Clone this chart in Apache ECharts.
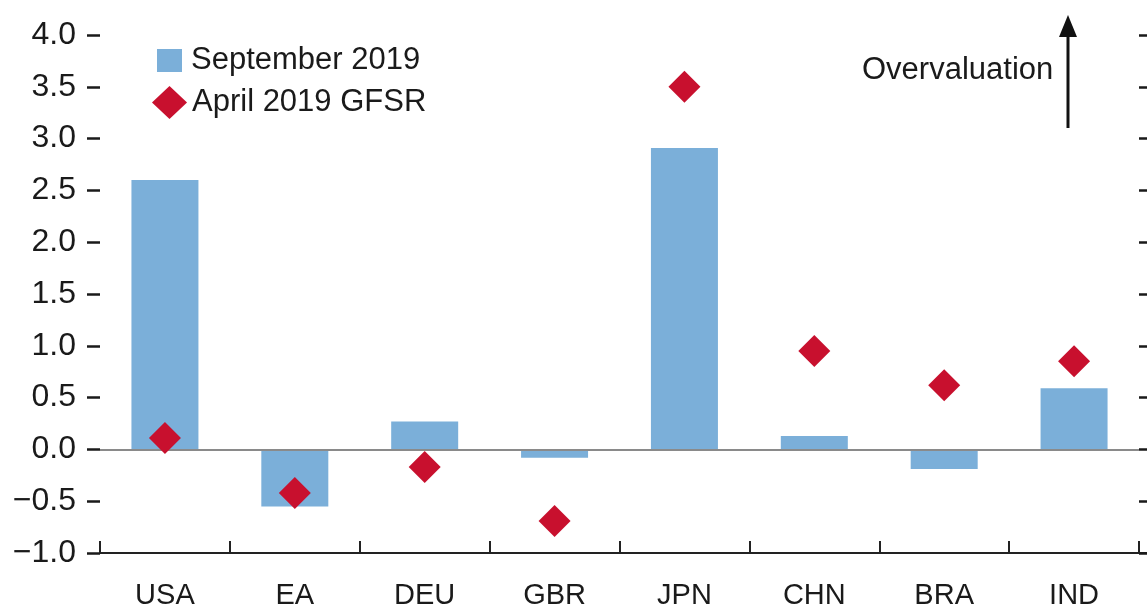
<!DOCTYPE html>
<html>
<head>
<meta charset="utf-8">
<script src="https://cdn.jsdelivr.net/npm/echarts@6/dist/echarts.min.js"></script>
<style>
html,body{margin:0;padding:0;background:#fff;}
#chart{width:1147px;height:614px;}
</style>
</head>
<body>
<div id="chart"></div>
<script>
const categories = ['USA', 'EA', 'DEU', 'GBR', 'JPN', 'CHN', 'BRA', 'IND'];
const september2019 = [2.6, -0.55, 0.27, -0.08, 2.91, 0.13, -0.19, 0.59];
const april2019GFSR = [0.11, -0.42, -0.17, -0.69, 3.5, 0.95, 0.62, 0.85];
const seriesNames = ['September 2019', 'April 2019 GFSR'];
const annotationText = 'Overvaluation';

const numFont = 'Liberation Sans, Arial, sans-serif';

const chart = echarts.init(document.getElementById('chart'), null, {renderer: 'canvas'});
chart.setOption({
  animation: false,
  backgroundColor: '#ffffff',
  grid: {left: 100, right: 8, top: 35, bottom: 61, containLabel: false},
  legend: [
    {
      data: [{name: seriesNames[0], icon: 'rect', itemStyle: {opacity: 1}}],
      left: 152, top: 40, itemWidth: 25, itemHeight: 23, itemGap: 0,
      textStyle: {fontFamily: numFont, fontSize: 31, color: '#1a1a1a', padding: [0, 0, 0, 4]},
      selectedMode: false
    },
    {
      data: [{name: seriesNames[1], icon: 'diamond', itemStyle: {opacity: 1}}],
      left: 147, top: 81, itemWidth: 35, itemHeight: 33, itemGap: 0,
      textStyle: {fontFamily: numFont, fontSize: 31, color: '#1a1a1a', padding: [0, 0, 0, 0]},
      selectedMode: false
    }
  ],
  xAxis: {
    type: 'category',
    data: categories,
    boundaryGap: true,
    axisLine: {show: true, onZero: false, lineStyle: {color: '#222', width: 2}},
    axisTick: {show: true, inside: true, length: 12, interval: 0, lineStyle: {color: '#222', width: 2}},
    axisLabel: {margin: 28, fontFamily: numFont, fontSize: 29, color: '#1a1a1a', interval: 0},
    splitLine: {show: false}
  },
  yAxis: [
    {
      type: 'value', position: 'left',
      min: -1, max: 4, interval: 0.5,
      axisLine: {show: false},
      axisTick: {show: true, length: 13, lineStyle: {color: '#1a1a1a', width: 2.5}},
      axisLabel: {
        margin: 24, fontFamily: numFont, fontSize: 32, color: '#1a1a1a',
        formatter: v => (v < 0 ? '\u2212' : '') + Math.abs(v).toFixed(1)
      },
      splitLine: {show: false}
    },
    {
      type: 'value', position: 'right',
      min: -1, max: 4, interval: 0.5,
      axisLine: {show: false},
      axisTick: {show: true, length: 10, lineStyle: {color: '#1a1a1a', width: 2.5}},
      axisLabel: {show: false},
      splitLine: {show: false}
    }
  ],
  series: [
    {
      name: seriesNames[0],
      type: 'bar',
      data: september2019,
      barWidth: 67,
      itemStyle: {color: '#7BAFD9', opacity: 1},
      markLine: {
        silent: true,
        symbol: ['none', 'none'],
        label: {show: false},
        lineStyle: {color: '#8a8a8a', width: 2, type: 'solid'},
        data: [{yAxis: 0}],
        z: 3
      },
      z: 2
    },
    {
      name: seriesNames[1],
      type: 'scatter',
      data: april2019GFSR,
      symbol: 'diamond',
      symbolSize: [32, 32],
      itemStyle: {color: '#C8102E', opacity: 1},
      z: 5
    }
  ],
  graphic: [
    {
      type: 'text', left: 862, top: 55,
      style: {text: annotationText, font: '31px ' + numFont, fill: '#1a1a1a'}
    },
    {
      type: 'line', shape: {x1: 1068, y1: 128, x2: 1068, y2: 30},
      style: {stroke: '#111', lineWidth: 3}
    },
    {
      type: 'polygon', shape: {points: [[1068, 15], [1059, 37], [1077, 37]]},
      style: {fill: '#111'}
    },
    {
      type: 'line', shape: {x1: 1139, y1: 553, x2: 1147, y2: 553},
      style: {stroke: '#222', lineWidth: 2}
    }
  ]
});
</script>
</body>
</html>
